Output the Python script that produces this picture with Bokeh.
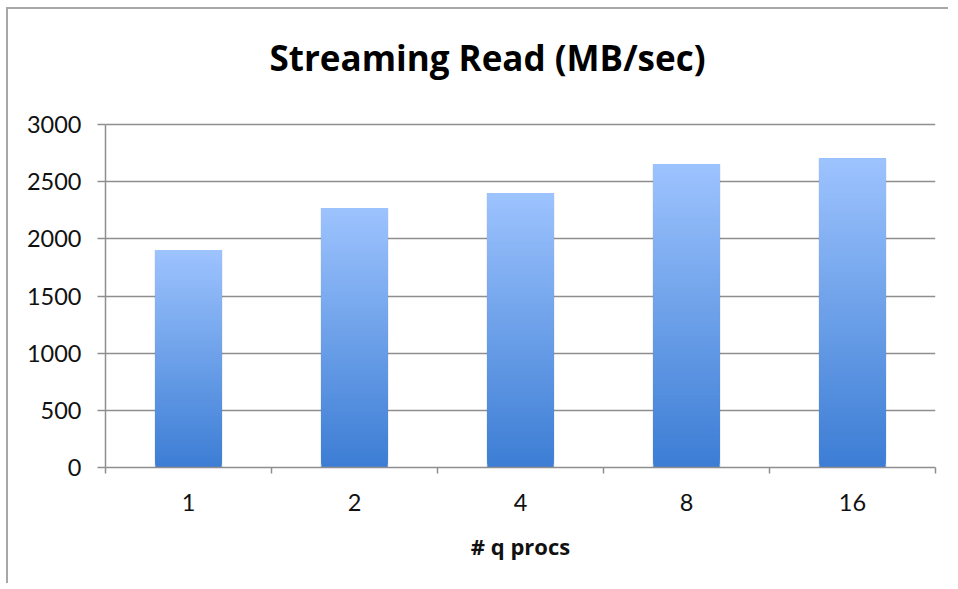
from bokeh.plotting import figure
from bokeh.models import Range1d, FixedTicker, ColumnDataSource, Label
from bokeh.embed import file_html
from bokeh.resources import INLINE

# ---- data ----
categories = ["1", "2", "4", "8", "16"]
read_mb_sec = [1900, 2270, 2400, 2650, 2700]
y_ticks = [0, 500, 1000, 1500, 2000, 2500, 3000]
title_text = "Streaming Read (MB/sec)"
x_label = "# q procs"

FONT = "Lato"
BOLD_FONT = "Open Sans"
GRID = "#8e8e8e"
TOP_COL = (157, 195, 254)
BOT_COL = (60, 125, 212)

# layout (pixels): the frame extends above the top tick so the title sits inside it
FRAME_H = 450          # frame height in px
AXIS_H = 343           # px between 0 and the top tick
y_top = y_ticks[-1]
y_end = y_top * FRAME_H / AXIS_H

p = figure(frame_width=830, frame_height=FRAME_H, output_backend="svg",
           toolbar_location=None,
           x_range=Range1d(0, len(categories)), y_range=Range1d(0, y_end),
           min_border_left=97, min_border_right=13, min_border_top=8,
           min_border_bottom=116)
p.styles = {"border-left": "2px solid #a8a8a8", "border-top": "2px solid #a8a8a8",
            "margin-left": "6px", "margin-top": "7px"}
p.outline_line_color = None
p.background_fill_color = "white"
p.border_fill_color = "white"

xs = [i + 0.5 for i in range(len(categories))]

# soft shadow
p.vbar(x=xs, top=read_mb_sec, bottom=0, width=0.415, fill_color="#000000",
       fill_alpha=0.06, line_color=None)

# gradient bars: overlapping slices of each value, each later slice drawn over the earlier
N = 80
sx, sb, st, sc = [], [], [], []
for k in range(N):
    t = (k + 0.5) / N
    r = round(BOT_COL[0] + (TOP_COL[0] - BOT_COL[0]) * t)
    g = round(BOT_COL[1] + (TOP_COL[1] - BOT_COL[1]) * t)
    b = round(BOT_COL[2] + (TOP_COL[2] - BOT_COL[2]) * t)
    for x, v in zip(xs, read_mb_sec):
        sx.append(x)
        sb.append(v * k / N)
        st.append(v)
        sc.append("#%02x%02x%02x" % (r, g, b))
src = ColumnDataSource(dict(x=sx, bottom=sb, top=st, color=sc))
p.vbar(x="x", bottom="bottom", top="top", width=0.4, source=src,
       fill_color="color", line_color=None)

# grid
p.xgrid.visible = False
p.ygrid.ticker = FixedTicker(ticks=y_ticks)
p.ygrid.grid_line_color = GRID
p.ygrid.grid_line_width = 1.5

# y axis
p.yaxis.ticker = FixedTicker(ticks=y_ticks)
p.yaxis.bounds = (0, y_top)
p.yaxis.axis_line_color = GRID
p.yaxis.axis_line_width = 1.5
p.yaxis.major_tick_line_color = GRID
p.yaxis.major_tick_line_width = 1.5
p.yaxis.major_tick_out = 8
p.yaxis.major_tick_in = 0
p.yaxis.minor_tick_line_color = None
p.yaxis.major_label_standoff = 16
p.yaxis.major_label_text_font = FONT
p.yaxis.major_label_text_font_size = "23.5px"
p.yaxis.major_label_text_color = "#111111"

# x axis: ticks at category boundaries, labels at centres
p.xaxis.ticker = FixedTicker(ticks=xs, minor_ticks=list(range(len(categories) + 1)))
p.xaxis.major_label_overrides = {x: c for x, c in zip(xs, categories)}
p.xaxis.axis_line_color = GRID
p.xaxis.axis_line_width = 1.5
p.xaxis.major_tick_line_color = None
p.xaxis.major_tick_out = 0
p.xaxis.major_tick_in = 0
p.xaxis.minor_tick_line_color = GRID
p.xaxis.minor_tick_line_width = 1.5
p.xaxis.minor_tick_out = 6
p.xaxis.minor_tick_in = 0
p.xaxis.major_label_standoff = 20
p.xaxis.major_label_text_font = FONT
p.xaxis.major_label_text_font_size = "23.5px"
p.xaxis.major_label_text_color = "#111111"
p.xaxis.axis_label = x_label
p.xaxis.axis_label_text_font = BOLD_FONT
p.xaxis.axis_label_text_font_style = "bold"
p.xaxis.axis_label_text_font_size = "22px"
p.xaxis.axis_label_text_color = "#111111"
p.xaxis.axis_label_standoff = 17

# chart title, placed inside the frame (screen units relative to the frame)
title = Label(x=382, y=410, x_units="screen", y_units="screen", text=title_text,
              text_font=BOLD_FONT, text_font_style="bold", text_font_size="35px",
              text_align="center", text_baseline="alphabetic", text_color="#000000")
p.add_layout(title)

open("out.html", "w").write(file_html(p, INLINE))
